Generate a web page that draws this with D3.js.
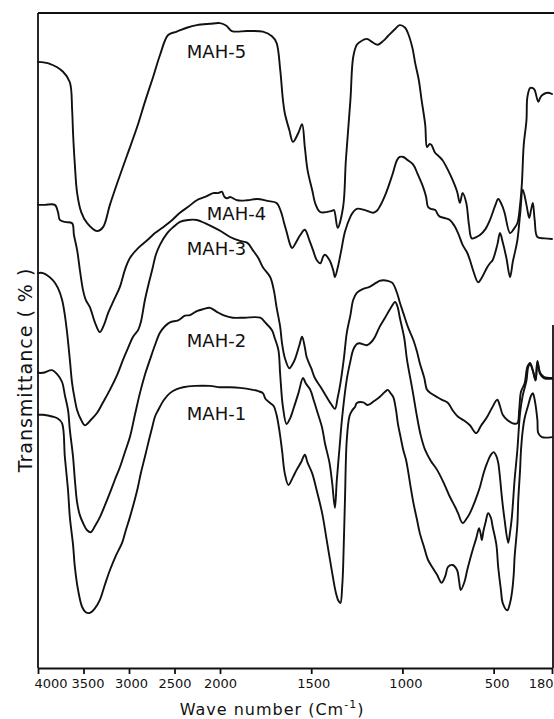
<!DOCTYPE html>
<html>
<head>
<meta charset="utf-8">
<script src="https://cdn.jsdelivr.net/npm/d3@7"></script>
<style>
  html, body { margin: 0; padding: 0; background: #fff; }
  svg { display: block; }
  .spectrum { fill: none; stroke: #111; stroke-width: 1.9; stroke-linejoin: round; stroke-linecap: round; }
  .frame { stroke: #111; stroke-width: 1.8; }
  .x-axis path, .x-axis line { stroke: #111; stroke-width: 1.8; }
  .x-axis text { font-family: "DejaVu Sans", sans-serif; font-size: 13px; fill: #111; }
  .series-label { font-family: "DejaVu Sans", sans-serif; font-size: 18px; fill: #111; }
  .axis-title { font-family: "DejaVu Sans", sans-serif; fill: #111; letter-spacing: 1px; }
</style>
</head>
<body>
<svg id="chart" width="554" height="719"></svg>
<script>
// wave number ticks (cm-1), the scale changes at 2000
const tickValues = [4000, 3500, 3000, 2500, 2000, 1500, 1000, 500, 180];

const seriesNames = ['MAH-5', 'MAH-4', 'MAH-3', 'MAH-2', 'MAH-1'];

// [wave number, transmittance %], curves offset as in the figure
const mah5 = [
  [4000, 92.4], [3870, 92.1], [3725, 90.9], [3650, 89.3], [3625, 85.1], [3615, 81.6], [3595, 76.7],
  [3570, 72.4], [3525, 69.5], [3460, 67.8], [3350, 66.6], [3285, 67.2], [3210, 70.6], [3130, 73.9],
  [3020, 78.2], [2910, 82.5], [2825, 86.3], [2735, 90.1], [2660, 93.4], [2570, 96.5], [2475, 97.0],
  [2365, 97.6], [2255, 98.0], [2110, 98.2], [2000, 98.3], [1965, 97.9], [1935, 97.1], [1850, 97.1],
  [1765, 97.0], [1715, 96.3], [1690, 95.3], [1670, 91.2], [1655, 86.6], [1645, 84.6], [1620, 82.0],
  [1600, 80.2], [1570, 81.6], [1550, 82.9], [1535, 79.4], [1520, 75.9], [1495, 72.9], [1475, 70.6],
  [1450, 69.5], [1385, 69.7], [1375, 69.8], [1355, 67.1], [1325, 70.3], [1310, 77.4], [1285, 86.6],
  [1270, 93.1], [1250, 95.0], [1235, 95.4], [1195, 95.9], [1165, 95.4], [1135, 95.0], [1105, 95.6],
  [1080, 96.3], [1040, 97.4], [1015, 98.0], [985, 97.6], [970, 96.8], [945, 94.5], [930, 92.2],
  [910, 89.6], [895, 86.6], [875, 82.8], [865, 79.4], [850, 79.9], [840, 79.7], [820, 78.5],
  [800, 78.0], [780, 77.4], [750, 75.9], [725, 74.4], [700, 72.6], [685, 70.9], [670, 72.4],
  [650, 70.9], [635, 67.5], [620, 65.5], [595, 65.7], [575, 66.0], [545, 66.9], [520, 68.3],
  [490, 70.6], [475, 71.5], [455, 70.6], [440, 69.4], [410, 66.3], [390, 66.9], [370, 67.8],
  [355, 70.6], [345, 73.9], [335, 79.7], [320, 83.5], [315, 87.0], [300, 88.4], [285, 88.4],
  [275, 88.1], [255, 86.3], [245, 86.9], [235, 87.3], [205, 87.7], [180, 87.5]
];

const mah4 = [
  [4000, 70.6], [3925, 70.6], [3815, 70.6], [3780, 69.5], [3760, 68.3], [3705, 68.0], [3625, 67.8],
  [3605, 66.0], [3570, 63.7], [3540, 60.7], [3505, 57.6], [3475, 56.1], [3430, 55.0], [3375, 52.7],
  [3320, 51.2], [3275, 52.3], [3230, 54.1], [3165, 56.1], [3100, 58.1], [3045, 60.7], [2990, 62.5],
  [2900, 64.0], [2800, 65.2], [2715, 66.3], [2625, 67.2], [2525, 68.3], [2440, 69.4], [2350, 70.3],
  [2255, 71.3], [2165, 71.8], [2075, 72.4], [2020, 72.4], [1990, 72.6], [1975, 71.8], [1960, 71.6],
  [1945, 71.8], [1905, 71.3], [1850, 71.3], [1795, 71.5], [1740, 71.2], [1690, 70.9], [1665, 69.5],
  [1650, 68.0], [1635, 66.5], [1615, 64.5], [1605, 64.0], [1585, 64.8], [1560, 66.0], [1535, 66.8],
  [1510, 65.2], [1490, 63.7], [1470, 62.2], [1450, 61.7], [1435, 62.7], [1425, 63.0], [1400, 62.2],
  [1380, 60.7], [1370, 59.6], [1355, 61.0], [1335, 63.7], [1315, 66.5], [1285, 68.8], [1270, 69.5],
  [1250, 70.0], [1205, 69.8], [1160, 69.4], [1140, 69.7], [1125, 70.3], [1090, 72.4], [1055, 75.2],
  [1030, 77.4], [1015, 77.9], [995, 77.9], [970, 77.4], [940, 76.7], [915, 75.2], [885, 73.2],
  [870, 71.8], [860, 70.3], [845, 70.0], [820, 69.8], [805, 69.1], [795, 68.8], [770, 68.6],
  [740, 68.3], [715, 67.4], [695, 66.3], [670, 64.5], [645, 63.3], [630, 62.2], [610, 60.4],
  [585, 58.8], [565, 59.5], [535, 61.1], [520, 61.7], [505, 62.2], [480, 64.5], [465, 66.3],
  [450, 64.9], [430, 62.5], [410, 59.6], [395, 61.9], [370, 65.2], [355, 69.1], [340, 72.9],
  [320, 70.6], [305, 68.6], [295, 69.8], [285, 70.9], [275, 68.3], [260, 65.7], [220, 65.5],
  [180, 65.4]
];

const mah3 = [
  [4000, 60.2], [3945, 60.2], [3835, 59.1], [3780, 57.9], [3735, 56.1], [3705, 53.8], [3680, 51.1],
  [3650, 47.0], [3625, 43.4], [3595, 40.9], [3570, 39.3], [3525, 37.8], [3485, 37.0], [3420, 37.8],
  [3350, 38.9], [3285, 40.5], [3210, 42.4], [3130, 44.7], [3065, 47.0], [3010, 48.8], [2955, 50.5],
  [2900, 51.5], [2870, 52.7], [2825, 56.1], [2780, 58.8], [2745, 60.7], [2705, 63.0], [2660, 64.5],
  [2580, 66.3], [2515, 67.2], [2440, 68.0], [2350, 68.3], [2255, 68.3], [2165, 67.8], [2075, 67.2],
  [1990, 66.5], [1945, 65.7], [1890, 65.1], [1850, 64.8], [1820, 63.7], [1790, 62.5], [1765, 61.1],
  [1725, 59.6], [1705, 57.6], [1690, 55.0], [1670, 52.0], [1660, 49.5], [1645, 47.3], [1620, 45.7],
  [1605, 46.2], [1590, 47.0], [1565, 49.2], [1550, 50.5], [1535, 48.9], [1525, 47.4], [1500, 45.7],
  [1480, 44.2], [1445, 42.7], [1415, 41.3], [1390, 40.2], [1370, 39.5], [1355, 41.2], [1340, 43.4],
  [1320, 47.4], [1305, 51.1], [1285, 53.8], [1270, 56.1], [1250, 57.2], [1215, 57.8], [1180, 58.1],
  [1145, 58.7], [1125, 59.0], [1105, 59.1], [1080, 59.0], [1055, 58.7], [1030, 57.2], [1015, 55.8],
  [995, 54.1], [970, 52.0], [940, 50.0], [920, 48.2], [905, 46.5], [880, 44.2], [865, 42.4],
  [840, 41.8], [810, 41.3], [785, 40.9], [750, 40.4], [725, 39.3], [695, 38.3], [660, 37.7],
  [630, 37.0], [595, 35.8], [570, 36.9], [535, 38.3], [510, 39.6], [480, 40.9], [465, 39.9],
  [450, 38.6], [425, 37.8], [395, 37.3], [370, 37.3], [360, 39.3], [350, 42.1], [330, 43.4],
  [315, 45.9], [300, 46.5], [285, 45.4], [270, 43.9], [260, 46.8], [245, 45.0], [225, 44.4],
  [180, 44.2]
];

const mah2 = [
  [4000, 45.0], [3945, 45.0], [3845, 45.4], [3790, 44.8], [3735, 43.6], [3705, 41.6], [3670, 39.3],
  [3650, 36.3], [3615, 32.2], [3595, 28.7], [3570, 25.2], [3540, 23.3], [3505, 22.1], [3460, 21.0],
  [3420, 20.7], [3375, 21.6], [3320, 23.0], [3265, 24.8], [3210, 26.7], [3155, 28.7], [3100, 30.6],
  [3045, 32.9], [2990, 35.2], [2935, 38.6], [2880, 41.9], [2825, 44.7], [2770, 47.0], [2715, 49.2],
  [2660, 51.1], [2605, 52.1], [2550, 52.7], [2460, 53.0], [2385, 53.7], [2330, 53.8], [2255, 54.4],
  [2185, 54.7], [2110, 54.9], [2035, 54.3], [1975, 53.7], [1930, 53.4], [1865, 53.4], [1780, 53.4],
  [1750, 52.6], [1715, 51.5], [1700, 50.3], [1680, 48.5], [1670, 44.7], [1655, 39.8], [1635, 37.2],
  [1615, 38.1], [1600, 39.3], [1570, 41.9], [1545, 44.2], [1530, 43.4], [1505, 42.4], [1485, 40.7],
  [1465, 38.9], [1440, 36.6], [1425, 34.3], [1400, 31.3], [1385, 28.2], [1370, 24.4], [1360, 28.5],
  [1345, 33.5], [1330, 38.3], [1305, 44.0], [1285, 46.8], [1270, 48.5], [1250, 49.4], [1235, 49.5],
  [1195, 49.2], [1170, 49.7], [1150, 50.5], [1125, 52.0], [1095, 53.4], [1070, 54.6], [1040, 55.8],
  [1025, 54.9], [1015, 53.5], [990, 50.3], [975, 47.0], [945, 42.4], [920, 38.3], [900, 35.5],
  [875, 33.2], [845, 31.6], [810, 30.2], [770, 28.0], [740, 26.1], [710, 24.5], [695, 23.6],
  [670, 22.1], [645, 22.9], [630, 23.6], [600, 25.6], [575, 27.6], [555, 29.7], [535, 31.3],
  [515, 32.5], [500, 32.9], [485, 32.3], [475, 31.3], [465, 29.0], [455, 26.1], [440, 22.6],
  [420, 19.1], [410, 20.7], [400, 23.0], [385, 28.7], [370, 33.2], [355, 38.9], [340, 41.6],
  [320, 43.8], [310, 45.9], [300, 46.3], [285, 45.3], [270, 43.8], [260, 46.6], [245, 44.8],
  [225, 44.2], [180, 44.1]
];

const mah1 = [
  [4000, 38.6], [3945, 38.6], [3835, 38.3], [3780, 38.0], [3735, 37.3], [3705, 32.2], [3670, 27.1],
  [3650, 23.0], [3615, 18.8], [3595, 15.4], [3560, 11.9], [3515, 9.3], [3475, 8.5], [3430, 8.4],
  [3375, 9.1], [3320, 10.4], [3265, 12.7], [3210, 14.9], [3145, 17.1], [3075, 19.1], [3035, 21.0],
  [2990, 23.0], [2910, 27.1], [2870, 29.7], [2825, 32.2], [2780, 34.8], [2745, 36.7], [2715, 38.3],
  [2680, 39.3], [2615, 40.9], [2550, 41.9], [2475, 42.5], [2405, 42.8], [2275, 43.0], [2110, 43.0],
  [2000, 42.8], [1945, 42.8], [1890, 42.7], [1820, 42.4], [1790, 42.2], [1765, 41.9], [1750, 41.0],
  [1725, 40.4], [1705, 39.9], [1690, 38.6], [1675, 36.3], [1660, 33.2], [1645, 29.7], [1625, 27.9],
  [1600, 29.1], [1580, 30.2], [1555, 31.4], [1535, 32.5], [1520, 31.3], [1495, 29.7],
  [1470, 27.1], [1440, 23.6], [1415, 19.5], [1385, 14.5], [1365, 11.5], [1350, 10.2], [1340, 9.9],
  [1330, 12.5], [1325, 15.4], [1315, 25.6], [1305, 34.8], [1290, 38.4], [1275, 39.3], [1260, 39.8],
  [1250, 40.4], [1215, 40.5], [1190, 40.1], [1155, 40.7], [1125, 41.3], [1095, 42.1], [1080, 42.4],
  [1065, 41.9], [1050, 41.3], [1035, 39.3], [1025, 37.3], [1010, 35.2], [995, 33.2], [980, 31.7],
  [970, 30.2], [955, 27.6], [940, 25.2], [920, 22.6], [905, 20.6], [880, 18.3], [860, 16.5],
  [830, 15.1], [810, 14.2], [785, 13.0], [765, 14.0], [750, 15.4], [725, 15.7], [700, 14.9],
  [690, 13.4], [680, 11.9], [660, 13.1], [645, 14.9], [630, 16.5], [615, 18.0], [595, 19.8],
  [580, 21.3], [570, 20.3], [565, 19.5], [555, 21.0], [545, 22.1], [530, 23.6], [515, 22.9],
  [505, 21.5], [485, 18.8], [475, 15.4], [460, 11.9], [450, 9.9], [425, 8.8], [410, 9.9],
  [400, 11.4], [390, 14.2], [385, 16.9], [370, 21.8], [365, 25.6], [355, 30.2], [350, 33.2],
  [340, 36.3], [330, 38.1], [310, 40.1], [295, 41.5], [285, 41.9], [275, 40.9], [260, 37.8],
  [255, 35.8], [235, 35.2], [180, 35.2]
];

const seriesData = [mah5, mah4, mah3, mah2, mah1];

const width = 554;
const plotLeft = 38;
const plotRight = 552;
const plotTop = 12;
const plotBottom = 668;

const svg = d3.select('#chart');

// two-part wave number scale: 4000-2000 compressed, 2000-180 expanded
const x = d3.scaleLinear().domain([4000, 2000, 180]).range([plotLeft, 220, plotRight]);
const y = d3.scaleLinear().domain([0, 100]).range([plotBottom, plotTop]);

// frame (the scan cuts the right edge above ~330px)
const frame = svg.append('g').attr('class', 'frame-group');
frame.append('line').attr('class', 'frame')
  .attr('x1', plotLeft).attr('x2', width).attr('y1', plotTop + 1).attr('y2', plotTop + 1);
frame.append('line').attr('class', 'frame')
  .attr('x1', plotLeft).attr('x2', plotLeft).attr('y1', plotTop + 1).attr('y2', plotBottom);
frame.append('line').attr('class', 'frame')
  .attr('x1', plotRight + 1).attr('x2', plotRight + 1).attr('y1', 325).attr('y2', plotBottom);

// x-axis
const xAxis = svg.append('g')
  .attr('class', 'x-axis')
  .attr('transform', `translate(0,${plotBottom})`)
  .call(d3.axisBottom(x).tickValues(tickValues).tickFormat(d3.format('d')).tickSize(6).tickSizeOuter(0).tickPadding(5));

// labels sit a little off their ticks in the original, the end ones pushed inside
const labelShift = { 4000: -4, 3500: 4, 3000: 2, 1500: 2, 1000: 3, 500: 3, 180: 1 };
xAxis.selectAll('.tick text')
  .attr('text-anchor', (d) => (d === 4000 ? 'start' : d === 180 ? 'end' : 'middle'))
  .attr('dx', (d) => labelShift[d] || 0);

// spectra
const line = d3.line()
  .x((d) => x(d[0]))
  .y((d) => y(d[1]))
  .curve(d3.curveCatmullRom.alpha(0.5));

svg.append('g')
  .selectAll('path')
  .data(seriesData)
  .enter()
  .append('path')
  .attr('class', 'spectrum')
  .attr('d', line);

// curve labels, anchored in data units
const labelAt = [[2365, 93.0], [2145, 68.3], [2365, 63.0], [2365, 48.9], [2365, 37.8]];
svg.append('g')
  .selectAll('text')
  .data(seriesNames)
  .enter()
  .append('text')
  .attr('class', 'series-label')
  .attr('x', (d, i) => x(labelAt[i][0]))
  .attr('y', (d, i) => y(labelAt[i][1]))
  .text((d) => d);

// axis titles
const xTitle = svg.append('text')
  .attr('class', 'axis-title')
  .attr('x', 272)
  .attr('y', 715)
  .attr('text-anchor', 'middle')
  .style('font-size', '16px');
xTitle.append('tspan').text('Wave number (Cm');
xTitle.append('tspan').attr('dy', -7).style('font-size', '11px').text('-1');
xTitle.append('tspan').attr('dy', 7).text(')');

svg.append('text')
  .attr('class', 'axis-title')
  .attr('transform', 'translate(32,370) rotate(-90)')
  .attr('text-anchor', 'middle')
  .style('font-size', '19px')
  .text('Transmittance ( % )');
</script>
</body>
</html>
